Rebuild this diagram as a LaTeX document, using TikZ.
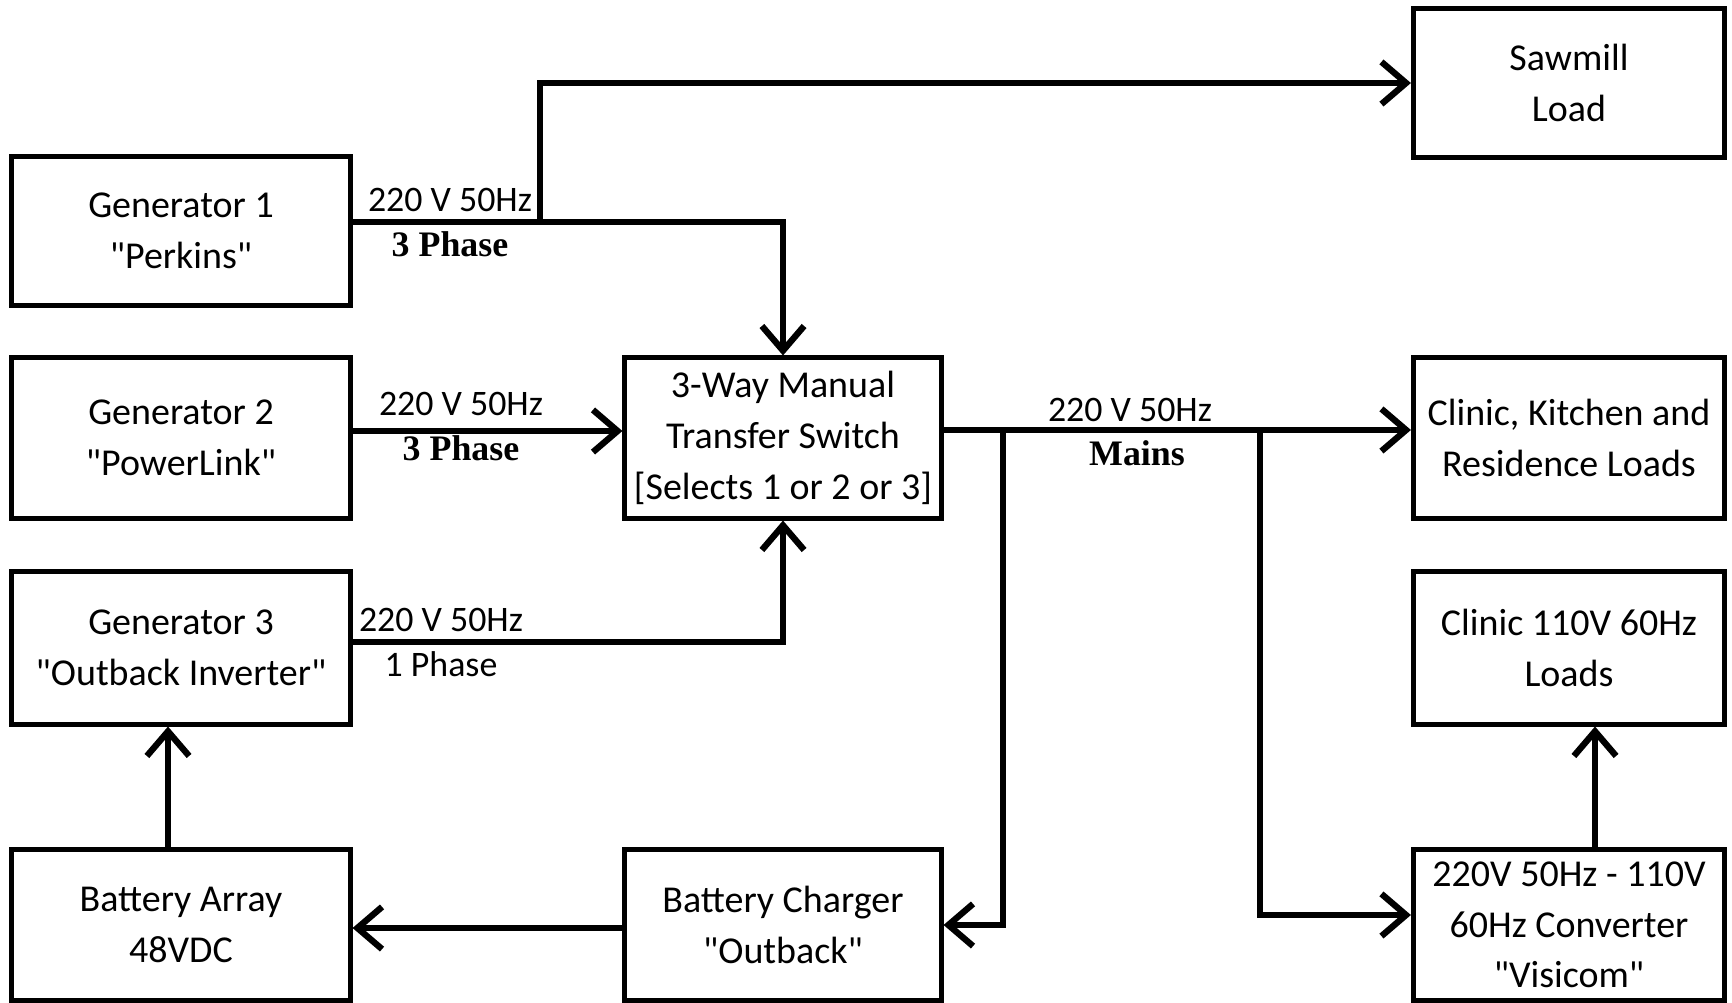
\documentclass[tikz,border=0pt]{standalone}
\usepackage{fontspec}
\setmainfont{Carlito}
\newfontfamily\serifbold{Liberation Serif}
\usetikzlibrary{arrows.meta}

\newcommand{\qt}[1]{\textquotedbl #1\textquotedbl}

\tikzset{
  unit/.style={draw, line width=1.4pt, align=center, inner sep=2pt,
    font=\fontsize{10.8}{14.4}\selectfont},
  flow/.style={line width=1.8pt,
    -{Straight Barb[length=7pt,width=12pt,line width=1.8pt]}},
  tag/.style={inner sep=0pt, font=\fontsize{10.2}{12}\selectfont},
  serif tag/.style={inner sep=0pt, font=\serifbold\bfseries\fontsize{10.2}{12}\selectfont}
}

\begin{document}
\begin{tikzpicture}[x=0.01cm, y=-0.01cm]
  \useasboundingbox (0,0) rectangle (1732,1003);

  % sources
  \node[unit, minimum width=3.38cm, minimum height=1.48cm] (gen1) at (181,231) {Generator 1\\\qt{Perkins}};
  \node[unit, minimum width=3.38cm, minimum height=1.60cm] (gen2) at (181,438) {Generator 2\\\qt{PowerLink}};
  \node[unit, minimum width=3.38cm, minimum height=1.52cm] (gen3) at (181,648) {Generator 3\\\qt{Outback Inverter}};
  \node[unit, minimum width=3.38cm, minimum height=1.51cm] (battery) at (181,925) {Battery Array\\48VDC};

  % switching and charging
  \node[unit, minimum width=3.16cm, minimum height=1.60cm] (switch) at (783,438) {3-Way Manual\\Transfer Switch\\{[Selects 1 or 2 or 3]}};
  \node[unit, minimum width=3.16cm, minimum height=1.51cm] (charger) at (783,925) {Battery Charger\\\qt{Outback}};

  % loads
  \node[unit, minimum width=3.11cm, minimum height=1.48cm] (sawmill) at (1569,83) {Sawmill\\Load};
  \node[unit, minimum width=3.11cm, minimum height=1.60cm] (residence) at (1569,438) {Clinic, Kitchen and\\Residence Loads};
  \node[unit, minimum width=3.11cm, minimum height=1.52cm] (clinic) at (1569,648) {Clinic 110V 60Hz\\Loads};
  \node[unit, minimum width=3.11cm, minimum height=1.51cm] (converter) at (1569,925) {220V 50Hz - 110V\\60Hz Converter\\\qt{Visicom}};

  % taps on the lines
  \coordinate (sawtap) at (540,222);
  \coordinate (chargetap) at (1003,430);
  \coordinate (convtap) at (1260,430);

  % connectors
  \draw[flow] ([yshift=0.09cm]gen1.east) -| (switch.north);
  \draw[flow] (sawtap) |- (sawmill.west);
  \draw[flow] ([yshift=0.07cm]gen2.east) -- ([yshift=0.07cm]switch.west);
  \draw[flow] ([yshift=0.06cm]gen3.east) -| (switch.south);
  \draw[flow] ([yshift=0.08cm]switch.east) -- ([yshift=0.08cm]residence.west);
  \draw[flow] (chargetap) |- (charger.east);
  \draw[flow] (convtap) |- ([yshift=0.1cm]converter.west);
  \draw[flow] ([yshift=-0.03cm]charger.west) -- ([yshift=-0.03cm]battery.east);
  \draw[flow] ([xshift=-0.13cm]battery.north) -- ([xshift=-0.13cm]gen3.south);
  \draw[flow] ([xshift=0.26cm]converter.north) -- ([xshift=0.26cm]clinic.south);

  % line labels
  \node[tag] (g1volt) at (450,200) {220 V 50Hz};
  \node[serif tag] (g1phase) at (450,244) {3 Phase};
  \node[tag] (g2volt) at (461,404) {220 V 50Hz};
  \node[serif tag] (g2phase) at (461,448) {3 Phase};
  \node[tag] (g3volt) at (441,620) {220 V 50Hz};
  \node[tag] (g3phase) at (441,664) {1 Phase};
  \node[tag] (mainsvolt) at (1130,410) {220 V 50Hz};
  \node[serif tag] (mains) at (1137,453) {Mains};
\end{tikzpicture}
\end{document}
